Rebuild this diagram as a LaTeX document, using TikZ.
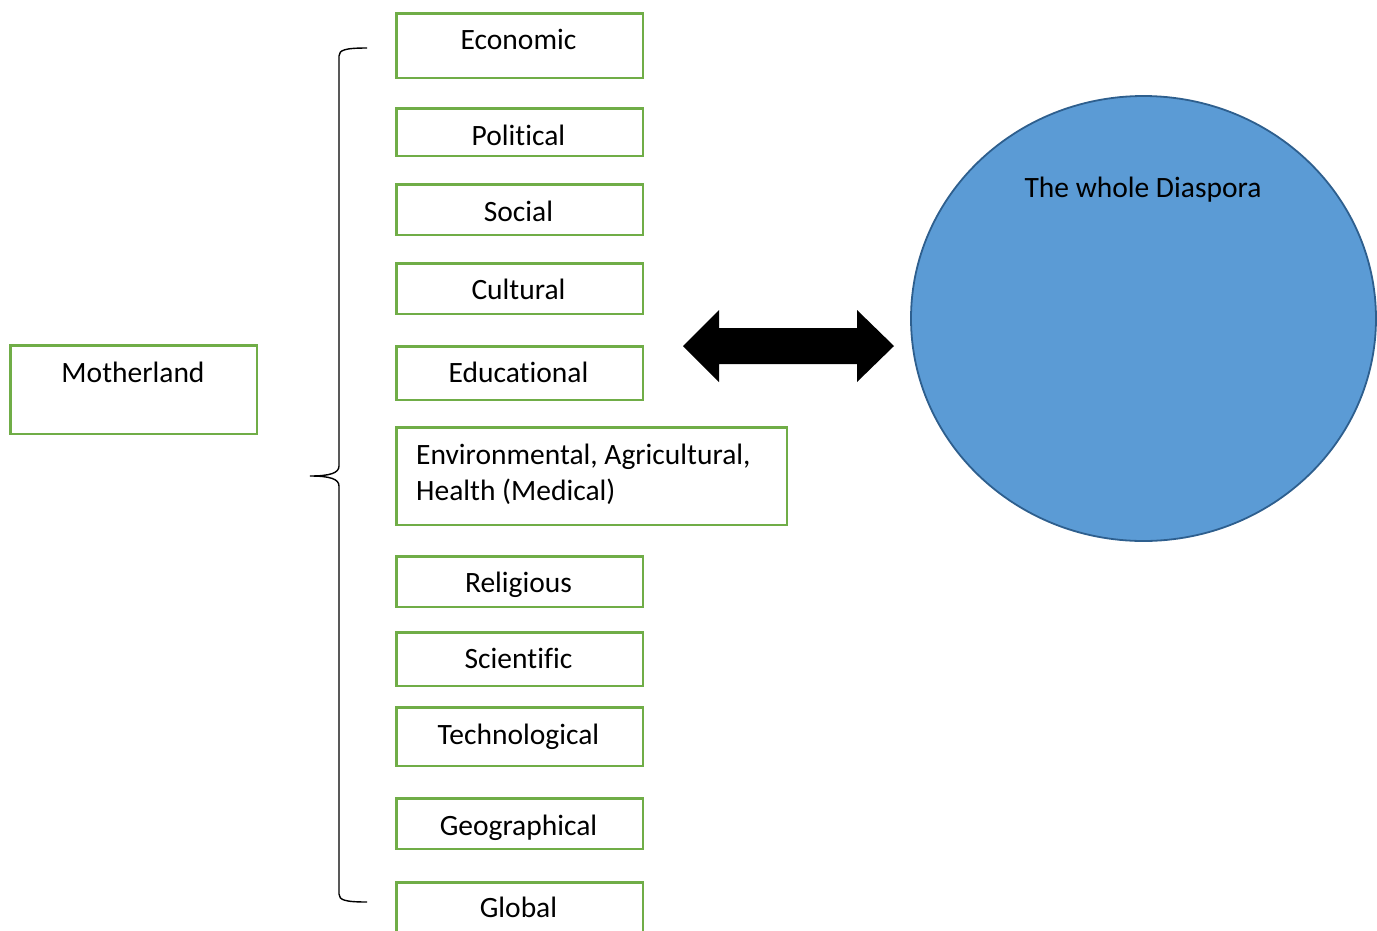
\documentclass[tikz,border=0pt]{standalone}
\usepackage{fontspec}
\setmainfont[Ligatures=NoCommon]{Carlito}
\definecolor{boxgreen}{HTML}{70AD47}
\definecolor{dfill}{HTML}{5B9BD5}
\definecolor{dline}{HTML}{2E5F8E}
\begin{document}
\begin{tikzpicture}[x=1pt,y=-1pt,
  box/.style={draw=boxgreen, line width=2.6pt, fill=white, inner sep=0pt, anchor=north west},
  txt/.style={font=\fontsize{29.5}{34}\selectfont, inner sep=0pt, anchor=base},
  brace/.style={draw=black, line width=1.4pt}]
\useasboundingbox (0,0) rectangle (1377,930);
% Motherland
\node[box, minimum width=246.5, minimum height=88.5] (mb) at (9.3,344.3) {};
\node[txt] (mt) at (133,382) {Motherland};
% category boxes
\node[box, minimum width=246.5, minimum height=64.5] (b1) at (395.3,12.3) {};
\node[txt] (t1) at (518.5,49) {Economic};
\node[box, minimum width=246.5, minimum height=47.5] (b2) at (395.3,107.3) {};
\node[txt] (t2) at (518.5,145) {Political};
\node[box, minimum width=246.5, minimum height=50.5] (b3) at (395.3,183.3) {};
\node[txt] (t3) at (518.5,221) {Social};
\node[box, minimum width=246.5, minimum height=50.5] (b4) at (395.3,262.3) {};
\node[txt] (t4) at (518.5,299) {Cultural};
\node[box, minimum width=246.5, minimum height=53.5] (b5) at (395.3,345.3) {};
\node[txt] (t5) at (518.5,382) {Educational};
\node[box, minimum width=390.5, minimum height=97.5] (b6) at (395.3,426.3) {};
\node[txt, anchor=base west] (t6a) at (416,464) {Environmental, Agricultural,};
\node[txt, anchor=base west] (t6b) at (416,500) {Health (Medical)};
\node[box, minimum width=246.5, minimum height=50.5] (b7) at (395.3,555.3) {};
\node[txt] (t7) at (518.5,592) {Religious};
\node[box, minimum width=246.5, minimum height=53.5] (b8) at (395.3,631.3) {};
\node[txt] (t8) at (518.5,668) {Scientific};
\node[box, minimum width=246.5, minimum height=58.5] (b9) at (395.3,706.3) {};
\node[txt] (t9) at (518.5,744) {Technological};
\node[box, minimum width=246.5, minimum height=50.5] (b10) at (395.3,797.3) {};
\node[txt] (t10) at (518.5,835) {Geographical};
\node[box, minimum width=246.5, minimum height=60] (b11) at (395.3,881.3) {};
\node[txt] (t11) at (518.5,917) {Global};
% brace
\coordinate (bt) at (367,48);
\coordinate (bm) at (310,476);
\coordinate (bb) at (367,902);
\draw[brace] (bt) .. controls (345,48) and (339,50) .. (339,56)
  -- (339,466) .. controls (339,473) and (330,476) .. (bm)
  .. controls (330,476) and (339,479) .. (339,486)
  -- (339,894) .. controls (339,900) and (345,902) .. (bb);
% double arrow
\fill[black] (683,346) -- (719,310) -- (719,328) -- (857,328) -- (857,310)
  -- (894,346) -- (857,382) -- (857,364) -- (719,364) -- (719,382) -- cycle;
% Diaspora ellipse
\fill[dfill] (1143.5,318.5) ellipse [x radius=232.5, y radius=222.5];
\draw[dline, line width=1.8pt] (1143.5,318.5) ellipse [x radius=232.5, y radius=222.5];
\node[txt] (dt) at (1143,197) {The whole Diaspora};
\end{tikzpicture}
\end{document}
